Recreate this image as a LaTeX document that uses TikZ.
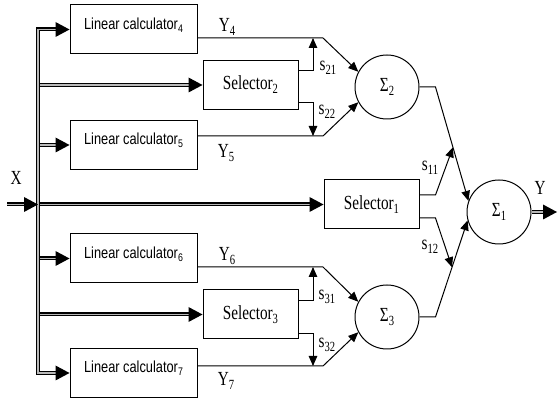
\documentclass[tikz,border=0pt]{standalone}
\usepackage{fontspec}
\setmainfont{Liberation Serif}[FakeStretch=0.76]
\newfontfamily\calcfont{Liberation Sans}[FakeStretch=0.8]
\usetikzlibrary{arrows.meta,decorations.markings,calc}
% lowered index used for all subscripts
\newcommand\lowidx[1]{\raisebox{-4pt}{\fontsize{14}{14}\selectfont #1}}
\newcommand\calcidx[1]{\raisebox{-3pt}{\fontsize{11}{11}\selectfont #1}}
\tikzset{
  wire/.style={line width=1pt},
  sig/.style={wire,-{Triangle[length=10pt,width=8.5pt]}},
  dbl/.style={line width=1.2pt,double=gray!55,double distance=1.6pt},
  dblarrow/.style={dbl,shorten >=11pt,postaction={decorate},
    decoration={markings,mark=at position 1 with
      {\fill[black,shorten >=0pt] (0pt,0pt) -- (-14pt,7.5pt) -- (-14pt,-7.5pt) -- cycle;}}},
  calcbox/.style={draw,wire,minimum width=127pt,minimum height=49pt,inner sep=0pt,
    font=\calcfont\fontsize{16}{16}\selectfont,text height=11pt,text depth=11pt},
  selbox/.style={draw,wire,minimum width=95pt,minimum height=49pt,inner sep=0pt,
    font=\fontsize{20}{20}\selectfont},
  sumnode/.style={draw,wire,circle,minimum size=64pt,inner sep=0pt,
    font=\fontsize{20}{20}\selectfont},
  lbl/.style={inner sep=0pt,font=\fontsize{20}{20}\selectfont},
}
\begin{document}
\begin{tikzpicture}[x=1pt,y=-1pt]
\useasboundingbox (0,0) rectangle (558,398);

% blocks
\node[calcbox] (lc4) at (133.5,29.5) {Linear calculator\calcidx{4}};
\node[selbox]  (sel2) at (250.5,85) {Selector\lowidx{2}};
\node[calcbox] (lc5) at (133.5,145) {Linear calculator\calcidx{5}};
\node[selbox]  (sel1) at (371.5,204.5) {Selector\lowidx{1}};
\node[calcbox] (lc6) at (133.5,258.5) {Linear calculator\calcidx{6}};
\node[selbox]  (sel3) at (250.5,314.5) {Selector\lowidx{3}};
\node[calcbox] (lc7) at (133.5,373) {Linear calculator\calcidx{7}};

% summing junctions
\node[sumnode] (s2) at (387,87) {Σ\lowidx{2}};
\node[sumnode] (s3) at (387,317) {Σ\lowidx{3}};
\node[sumnode] (s1) at (499,212) {Σ\lowidx{1}};

% helper points
\coordinate (bus) at (38,0);
\coordinate (xin) at (7,204.5);
\coordinate (yout) at (557,212);
\coordinate (k4) at (323,38);
\coordinate (k5) at (323,136);
\coordinate (k6) at (323,267);
\coordinate (k7) at (323,366);

% input distribution bus
\draw[dblarrow] (bus |- sel2.west) -- (sel2.west);
\draw[dblarrow] (bus |- lc5.west) -- (lc5.west);
\draw[dblarrow] (bus |- sel1.west) -- (sel1.west);
\draw[dblarrow] (bus |- lc6.west) -- (lc6.west);
\draw[dblarrow] (bus |- sel3.west) -- (sel3.west);
\draw[dblarrow] (bus |- sel1.west) -- (bus |- lc4.west) -- (lc4.west);
\draw[dblarrow] (bus |- sel1.west) -- (bus |- lc7.west) -- (lc7.west);
\draw[dblarrow] (xin) -- (bus |- sel1.west);

% outputs of the linear calculators
\draw[sig] (lc4.east |- k4) -- (k4) -- (s2.152);
\draw[sig] (lc5.east |- k5) -- (k5) -- (s2.208);
\draw[sig] (lc6.east |- k6) -- (k6) -- (s3.152);
\draw[sig] (lc7.east |- k7) -- (k7) -- (s3.208);

% selector control signals
\draw[sig] ([yshift=14pt]sel2.east) -| ([xshift=-10pt]k4);
\draw[sig] ([yshift=-18pt]sel2.east) -| ([xshift=-10pt]k5);
\draw[sig] ([yshift=14pt]sel3.east) -| ([xshift=-10pt]k6);
\draw[sig] ([yshift=-19pt]sel3.east) -| ([xshift=-10pt]k7);

% second stage
\draw[sig] (s2.east) -- ++(16,0) coordinate (k2) -- (s1.160);
\draw[sig] (s3.east) -- ++(16,0) coordinate (k3) -- (s1.195);
\draw[sig] ([yshift=9.5pt]sel1.east) -- ++(16,0) -- ($(k2)!0.53!(s1.160)$);
\draw[sig] ([yshift=-13.5pt]sel1.east) -- ++(16,0) -- ($(k3)!0.515!(s1.195)$);

% final output
\draw[dblarrow] (s1.east) -- (yout);

% labels
\node[lbl] (lx) at (16,178) {X};
\node[lbl] (ly) at (540,188) {Y};
\node[lbl] (ly4) at (227,27) {Y\lowidx{4}};
\node[lbl] (ly5) at (226,153) {Y\lowidx{5}};
\node[lbl] (ly6) at (227,256) {Y\lowidx{6}};
\node[lbl] (ly7) at (226,381) {Y\lowidx{7}};
\node[lbl] (l21) at (328,68) {s\lowidx{21}};
\node[lbl] (l22) at (327,112) {s\lowidx{22}};
\node[lbl] (l31) at (327,297) {s\lowidx{31}};
\node[lbl] (l32) at (327,345) {s\lowidx{32}};
\node[lbl] (l11) at (430,168) {s\lowidx{11}};
\node[lbl] (l12) at (430,247) {s\lowidx{12}};
\end{tikzpicture}
\end{document}
